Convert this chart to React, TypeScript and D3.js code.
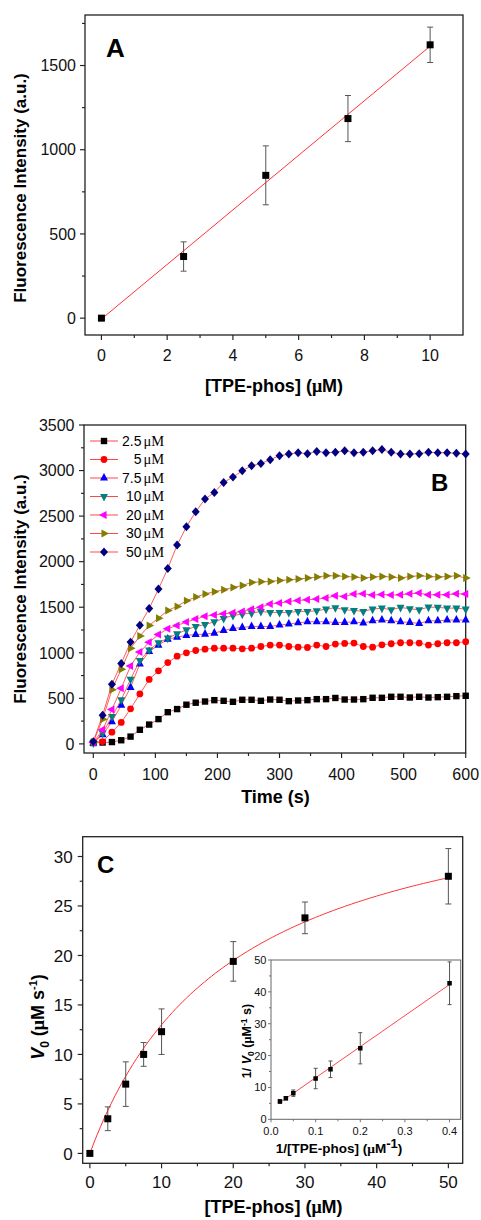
import React from 'react';
import * as d3 from 'd3';

// ---------- Panel A data ----------
const aConc = [0, 2.5, 5, 7.5, 10];
const aIntensity = [0, 366, 848, 1185, 1623];
const aError = [0, 87, 175, 137, 105];
const aFitSlope = 162;
const aFitIntercept = -5;
const aXTicks = [0, 2, 4, 6, 8, 10];
const aXMinor = [1, 3, 5, 7, 9];
const aYTicks = [0, 500, 1000, 1500];
const aYMinor = [250, 750, 1250, 1750];

// ---------- Panel B data ----------
const bTime = [0, 15, 30, 45, 60, 75, 90, 105, 120, 135, 150, 165, 180, 195, 210, 225, 240, 255, 270, 285, 300, 315, 330, 345, 360, 375, 390, 405, 420, 435, 450, 465, 480, 495, 510, 525, 540, 555, 570, 585, 600];
const b2_5 = [10, 15, 20, 40, 80, 155, 212, 272, 348, 382, 430, 452, 465, 480, 473, 462, 484, 484, 473, 487, 484, 469, 476, 480, 491, 491, 504, 487, 487, 491, 506, 506, 517, 517, 509, 517, 509, 513, 517, 524, 528];
const b5 = [20, 25, 129, 235, 385, 548, 707, 802, 892, 963, 1000, 1025, 1040, 1050, 1051, 1051, 1044, 1051, 1069, 1084, 1084, 1069, 1062, 1058, 1084, 1069, 1095, 1102, 1106, 1069, 1062, 1088, 1099, 1110, 1110, 1106, 1084, 1099, 1110, 1110, 1121];
const b7_5 = [10, 102, 242, 425, 620, 878, 1014, 1084, 1150, 1172, 1190, 1200, 1205, 1216, 1245, 1267, 1278, 1289, 1289, 1289, 1304, 1315, 1329, 1340, 1340, 1340, 1333, 1333, 1340, 1326, 1351, 1359, 1351, 1340, 1333, 1322, 1351, 1351, 1359, 1359, 1359];
const b10 = [10, 118, 300, 484, 710, 915, 1030, 1110, 1161, 1208, 1252, 1289, 1310, 1340, 1377, 1410, 1424, 1435, 1454, 1443, 1443, 1443, 1454, 1454, 1461, 1479, 1495, 1472, 1465, 1454, 1479, 1490, 1472, 1498, 1483, 1472, 1501, 1498, 1490, 1490, 1479];
const b20 = [15, 154, 377, 610, 855, 1008, 1115, 1200, 1265, 1300, 1338, 1370, 1400, 1415, 1428, 1438, 1454, 1479, 1501, 1534, 1545, 1563, 1574, 1582, 1589, 1600, 1626, 1618, 1644, 1648, 1633, 1640, 1633, 1637, 1648, 1655, 1637, 1637, 1637, 1648, 1644];
const b30 = [20, 270, 594, 820, 1049, 1183, 1300, 1380, 1465, 1509, 1571, 1611, 1646, 1670, 1692, 1717, 1739, 1772, 1779, 1783, 1794, 1801, 1809, 1820, 1831, 1845, 1845, 1838, 1831, 1820, 1831, 1838, 1831, 1820, 1838, 1845, 1838, 1831, 1838, 1845, 1820];
const b50 = [25, 315, 655, 882, 1117, 1303, 1486, 1699, 1925, 2182, 2383, 2548, 2687, 2760, 2870, 2928, 2998, 3053, 3078, 3119, 3163, 3181, 3196, 3185, 3210, 3196, 3200, 3218, 3196, 3200, 3218, 3230, 3200, 3181, 3181, 3185, 3200, 3196, 3196, 3190, 3181];
const bSeriesLabels = ['2.5', '5', '7.5', '10', '20', '30', '50'];
const bSeriesValues = [b2_5, b5, b7_5, b10, b20, b30, b50];
const bSeriesColors = ['#000000', '#ff0000', '#0000ff', '#008080', '#ff00ff', '#808000', '#000080'];
const bSeriesShapes = ['square', 'circle', 'triUp', 'triDown', 'triLeft', 'triRight', 'diamond'];
const bXTicks = [0, 100, 200, 300, 400, 500, 600];
const bXMinor = [50, 150, 250, 350, 450, 550];
const bYTicks = [0, 500, 1000, 1500, 2000, 2500, 3000, 3500];
const bYMinor = [250, 750, 1250, 1750, 2250, 2750, 3250];

// ---------- Panel C data ----------
const cConc = [0, 2.5, 5, 7.5, 10, 20, 30, 50];
const cV0 = [0, 3.5, 7.0, 10.0, 12.3, 19.4, 23.8, 28.0];
const cError = [0, 1.2, 2.25, 1.2, 2.3, 2.0, 1.6, 2.8];
const cFitVmax = 39;
const cFitKm = 20;
const cXTicks = [0, 10, 20, 30, 40, 50];
const cXMinor = [5, 15, 25, 35, 45];
const cYTicks = [0, 5, 10, 15, 20, 25, 30];
const cYMinor = [2.5, 7.5, 12.5, 17.5, 22.5, 27.5];

// ---------- Inset data ----------
const iInvConc = [0.02, 0.0333, 0.05, 0.1, 0.1333, 0.2, 0.4];
const iInvV0 = [5.6, 6.6, 8.2, 12.8, 15.7, 22.3, 42.7];
const iError = [0.6, 0.5, 1.0, 3.2, 2.6, 4.9, 6.7];
const iFitSlope = 97.5;
const iFitIntercept = 3.3;
const iXTicks = [0, 0.1, 0.2, 0.3, 0.4];
const iXMinor = [0.05, 0.15, 0.25, 0.35];
const iYTicks = [0, 10, 20, 30, 40, 50];
const iYMinor = [5, 15, 25, 35, 45];

const FONT = "'Liberation Sans', Arial, Helvetica, sans-serif";
const SERIF = "'Liberation Serif', 'Times New Roman', serif";
const RED = '#ff3333';
const ERR = '#555555';

type Scale = d3.ScaleLinear<number, number>;

function markerPath(shape: string, s: number): string {
  const h = s * 0.95;
  const w = s / 2;
  switch (shape) {
    case 'square':
      return `M${-s / 2},${-s / 2}h${s}v${s}h${-s}Z`;
    case 'diamond':
      return `M0,${-s * 0.56}L${s * 0.5},0L0,${s * 0.56}L${-s * 0.5},0Z`;
    case 'triUp':
      return `M0,${(-h * 2) / 3}L${w},${h / 3}L${-w},${h / 3}Z`;
    case 'triDown':
      return `M0,${(h * 2) / 3}L${w},${-h / 3}L${-w},${-h / 3}Z`;
    case 'triLeft':
      return `M${(-h * 2) / 3},0L${h / 3},${w}L${h / 3},${-w}Z`;
    case 'triRight':
      return `M${(h * 2) / 3},0L${-h / 3},${w}L${-h / 3},${-w}Z`;
    default:
      return '';
  }
}

function Marker({ shape, x, y, color, s }: { shape: string; x: number; y: number; color: string; s: number }) {
  if (shape === 'circle') return <circle cx={x} cy={y} r={s * 0.47} fill={color} />;
  return <path d={markerPath(shape, s)} transform={`translate(${x},${y})`} fill={color} />;
}

function markerSize(shape: string): number {
  if (shape === 'square') return 6.4;
  if (shape === 'circle') return 7.2;
  return 8;
}

function Axes(props: {
  x: Scale; y: Scale; xMajor: number[]; xMinor: number[]; yMajor: number[]; yMinor: number[];
  xFmt: (v: number) => string; yFmt: (v: number) => string; fs: number; major: number; minor: number;
  stroke: string; sw: number; xDy: number; yDx: number;
}) {
  const { x, y, xMajor, xMinor, yMajor, yMinor, xFmt, yFmt, fs, major, minor, stroke, sw, xDy, yDx } = props;
  const [x0, x1] = x.range();
  const [y0, y1] = y.range();
  return (
    <g>
      <rect x={x0} y={y1} width={x1 - x0} height={y0 - y1} fill="none" stroke={stroke} strokeWidth={sw} />
      {xMajor.map((v) => (
        <line key={'xM' + v} x1={x(v)} x2={x(v)} y1={y0} y2={y0 + major} stroke={stroke} strokeWidth={sw * 0.9} />
      ))}
      {xMinor.map((v) => (
        <line key={'xm' + v} x1={x(v)} x2={x(v)} y1={y0} y2={y0 + minor} stroke={stroke} strokeWidth={sw * 0.9} />
      ))}
      {yMajor.map((v) => (
        <line key={'yM' + v} x1={x0 - major} x2={x0} y1={y(v)} y2={y(v)} stroke={stroke} strokeWidth={sw * 0.9} />
      ))}
      {yMinor.map((v) => (
        <line key={'ym' + v} x1={x0 - minor} x2={x0} y1={y(v)} y2={y(v)} stroke={stroke} strokeWidth={sw * 0.9} />
      ))}
      {xMajor.map((v) => (
        <text key={'xl' + v} x={x(v)} y={y0 + xDy} textAnchor="middle" fontSize={fs} fill="#111">
          {xFmt(v)}
        </text>
      ))}
      {yMajor.map((v) => (
        <text key={'yl' + v} x={x0 - yDx} y={y(v) + fs * 0.36} textAnchor="end" fontSize={fs} fill="#111">
          {yFmt(v)}
        </text>
      ))}
    </g>
  );
}

function ErrorBar({ x, yLo, yHi, cw }: { x: number; yLo: number; yHi: number; cw: number }) {
  return (
    <g stroke={ERR} strokeWidth={1}>
      <line x1={x} x2={x} y1={yLo} y2={yHi} />
      <line x1={x - cw} x2={x + cw} y1={yLo} y2={yLo} />
      <line x1={x - cw} x2={x + cw} y1={yHi} y2={yHi} />
    </g>
  );
}

export default function App() {
  // Panel A scales
  const ax = d3.scaleLinear().domain([-0.5, 11]).range([85, 463]);
  const ay = d3.scaleLinear().domain([-100, 1800]).range([335, 15]);
  // Panel B scales
  const bx = d3.scaleLinear().domain([-15, 600]).range([84, 465.7]);
  const by = d3.scaleLinear().domain([-100, 3500]).range([753, 425]);
  // Panel C scales
  const cx = d3.scaleLinear().domain([-1, 52]).range([82.7, 462.7]);
  const cy = d3.scaleLinear().domain([-1, 32]).range([1163.3, 836.7]);
  // Inset scales
  const ix = d3.scaleLinear().domain([0, 0.425]).range([271, 460.7]);
  const iy = d3.scaleLinear().domain([0, 50]).range([1119.3, 960]);

  const aLine = d3.line<number>().x((v) => ax(v)).y((v) => ay(aFitSlope * v + aFitIntercept));
  const cLine = d3.line<number>().x((v) => cx(v)).y((v) => cy((cFitVmax * v) / (cFitKm + v)));
  const cCurveX = d3.range(0, 50.01, 0.5);
  const iLine = d3.line<number>().x((v) => ix(v)).y((v) => iy(iFitSlope * v + iFitIntercept));

  const bLine = d3.line<number>().x((_, i) => bx(bTime[i])).y((v) => by(v));

  const fmt0 = (v: number) => String(v);
  const fmt1 = (v: number) => v.toFixed(1);

  const legendY0 = 441;
  const legendStep = 18.5;

  return (
    <svg width={481} height={1220} style={{ position: 'absolute', left: 0, top: 0, background: '#fff' }} fontFamily={FONT}>
      <rect x={0} y={0} width={481} height={1220} fill="#fff" />

      {/* ================= Panel A ================= */}
      <Axes x={ax} y={ay} xMajor={aXTicks} xMinor={aXMinor} yMajor={aYTicks} yMinor={aYMinor}
        xFmt={fmt0} yFmt={fmt0} fs={16} major={5} minor={3} stroke="#222" sw={1.3} xDy={25.5} yDx={9} />
      <path d={aLine([aConc[0], aConc[aConc.length - 1]]) || ''} fill="none" stroke={RED} strokeWidth={1} />
      {aConc.map((c, i) => (
        <g key={'a' + i}>
          {aError[i] > 0 && <ErrorBar x={ax(c)} yLo={ay(aIntensity[i] - aError[i])} yHi={ay(aIntensity[i] + aError[i])} cw={3} />}
          <Marker shape="square" x={ax(c)} y={ay(aIntensity[i])} color="#000" s={7} />
        </g>
      ))}
      <text x={106} y={57} fontSize={26} fontWeight="bold">A</text>
      <text transform="translate(26,188) rotate(-90)" textAnchor="middle" fontSize={17} fontWeight="bold">
        Fluorescence Intensity (a.u.)
      </text>
      <text x={274} y={392} textAnchor="middle" fontSize={18} fontWeight="bold">
        [TPE-phos] (<tspan fontFamily={SERIF}>μ</tspan>M)
      </text>

      {/* ================= Panel B ================= */}
      <Axes x={bx} y={by} xMajor={bXTicks} xMinor={bXMinor} yMajor={bYTicks} yMinor={bYMinor}
        xFmt={fmt0} yFmt={fmt0} fs={16} major={5} minor={3} stroke="#222" sw={1.3} xDy={27} yDx={9.5} />
      {bSeriesValues.map((vals, si) => (
        <g key={'bs' + si}>
          <path d={bLine(vals) || ''} fill="none" stroke={RED} strokeWidth={0.8} />
          {vals.map((v, i) => (
            <Marker key={i} shape={bSeriesShapes[si]} x={bx(bTime[i])} y={by(v)} color={bSeriesColors[si]} s={markerSize(bSeriesShapes[si])} />
          ))}
        </g>
      ))}
      {bSeriesLabels.map((lab, i) => {
        const yy = legendY0 + i * legendStep;
        return (
          <g key={'lg' + i}>
            <line x1={90} x2={118} y1={yy} y2={yy} stroke={RED} strokeWidth={0.9} />
            <Marker shape={bSeriesShapes[i]} x={104} y={yy} color={bSeriesColors[i]} s={markerSize(bSeriesShapes[i])} />
            <text x={141.5} y={yy + 4.8} textAnchor="end" fontSize={14}>{lab}</text>
            <text x={143.5} y={yy + 4.8} fontSize={14.5} fontFamily={SERIF}>μM</text>
          </g>
        );
      })}
      <text x={431} y={491} fontSize={24} fontWeight="bold">B</text>
      <text transform="translate(26,589) rotate(-90)" textAnchor="middle" fontSize={17} fontWeight="bold">
        Fluorescence Intensity (a.u.)
      </text>
      <text x={275.5} y={803} textAnchor="middle" fontSize={18} fontWeight="bold">Time (s)</text>

      {/* ================= Panel C ================= */}
      <Axes x={cx} y={cy} xMajor={cXTicks} xMinor={cXMinor} yMajor={cYTicks} yMinor={cYMinor}
        xFmt={fmt0} yFmt={fmt0} fs={17} major={5} minor={3} stroke="#222" sw={1.3} xDy={25} yDx={10} />
      <path d={cLine(cCurveX) || ''} fill="none" stroke={RED} strokeWidth={1} />
      {cConc.map((c, i) => (
        <g key={'c' + i}>
          {cError[i] > 0 && <ErrorBar x={cx(c)} yLo={cy(cV0[i] - cError[i])} yHi={cy(cV0[i] + cError[i])} cw={3} />}
          <Marker shape="square" x={cx(c)} y={cy(cV0[i])} color="#000" s={7} />
        </g>
      ))}
      <text x={97} y={873} fontSize={24} fontWeight="bold">C</text>
      <text transform="translate(43.5,1017) rotate(-90)" textAnchor="middle" fontSize={18} fontWeight="bold">
        <tspan fontStyle="italic">V</tspan>
        <tspan fontSize={12} dy={5}>0</tspan>
        <tspan dy={-5}> (</tspan>
        <tspan fontFamily={SERIF}>μ</tspan>
        <tspan>M s</tspan>
        <tspan fontSize={11} dy={-7}>-1</tspan>
        <tspan dy={7}>)</tspan>
      </text>
      <text x={273.5} y={1213} textAnchor="middle" fontSize={18} fontWeight="bold">
        [TPE-phos] (<tspan fontFamily={SERIF}>μ</tspan>M)
      </text>

      {/* ================= Inset ================= */}
      <rect x={271} y={960} width={189.7} height={159.3} fill="#fff" />
      <Axes x={ix} y={iy} xMajor={iXTicks} xMinor={iXMinor} yMajor={iYTicks} yMinor={iYMinor}
        xFmt={fmt1} yFmt={fmt0} fs={11} major={3} minor={2} stroke="#666" sw={1} xDy={15.5} yDx={4.5} />
      <path d={iLine([iInvConc[0], iInvConc[iInvConc.length - 1]]) || ''} fill="none" stroke={RED} strokeWidth={0.9} />
      {iInvConc.map((c, i) => (
        <g key={'i' + i}>
          <ErrorBar x={ix(c)} yLo={iy(iInvV0[i] - iError[i])} yHi={iy(iInvV0[i] + iError[i])} cw={2} />
          <Marker shape="square" x={ix(c)} y={iy(iInvV0[i])} color="#000" s={4.5} />
        </g>
      ))}
      <text x={339} y={1153} textAnchor="middle" fontSize={13.5} fontWeight="bold">
        1/[TPE-phos] (<tspan fontFamily={SERIF}>μ</tspan>M<tspan fontSize={13} dy={-5}>-1</tspan><tspan dy={5}>)</tspan>
      </text>
      <text transform="translate(251,1041) rotate(-90)" textAnchor="middle" fontSize={12.5} fontWeight="bold">
        1/ <tspan fontStyle="italic">V</tspan><tspan fontSize={8.5} dy={3}>0</tspan><tspan dy={-3}> (</tspan>
        <tspan fontFamily={SERIF}>μ</tspan>M<tspan fontSize={8.5} dy={-4}>-1</tspan><tspan dy={4}> s)</tspan>
      </text>
    </svg>
  );
}
